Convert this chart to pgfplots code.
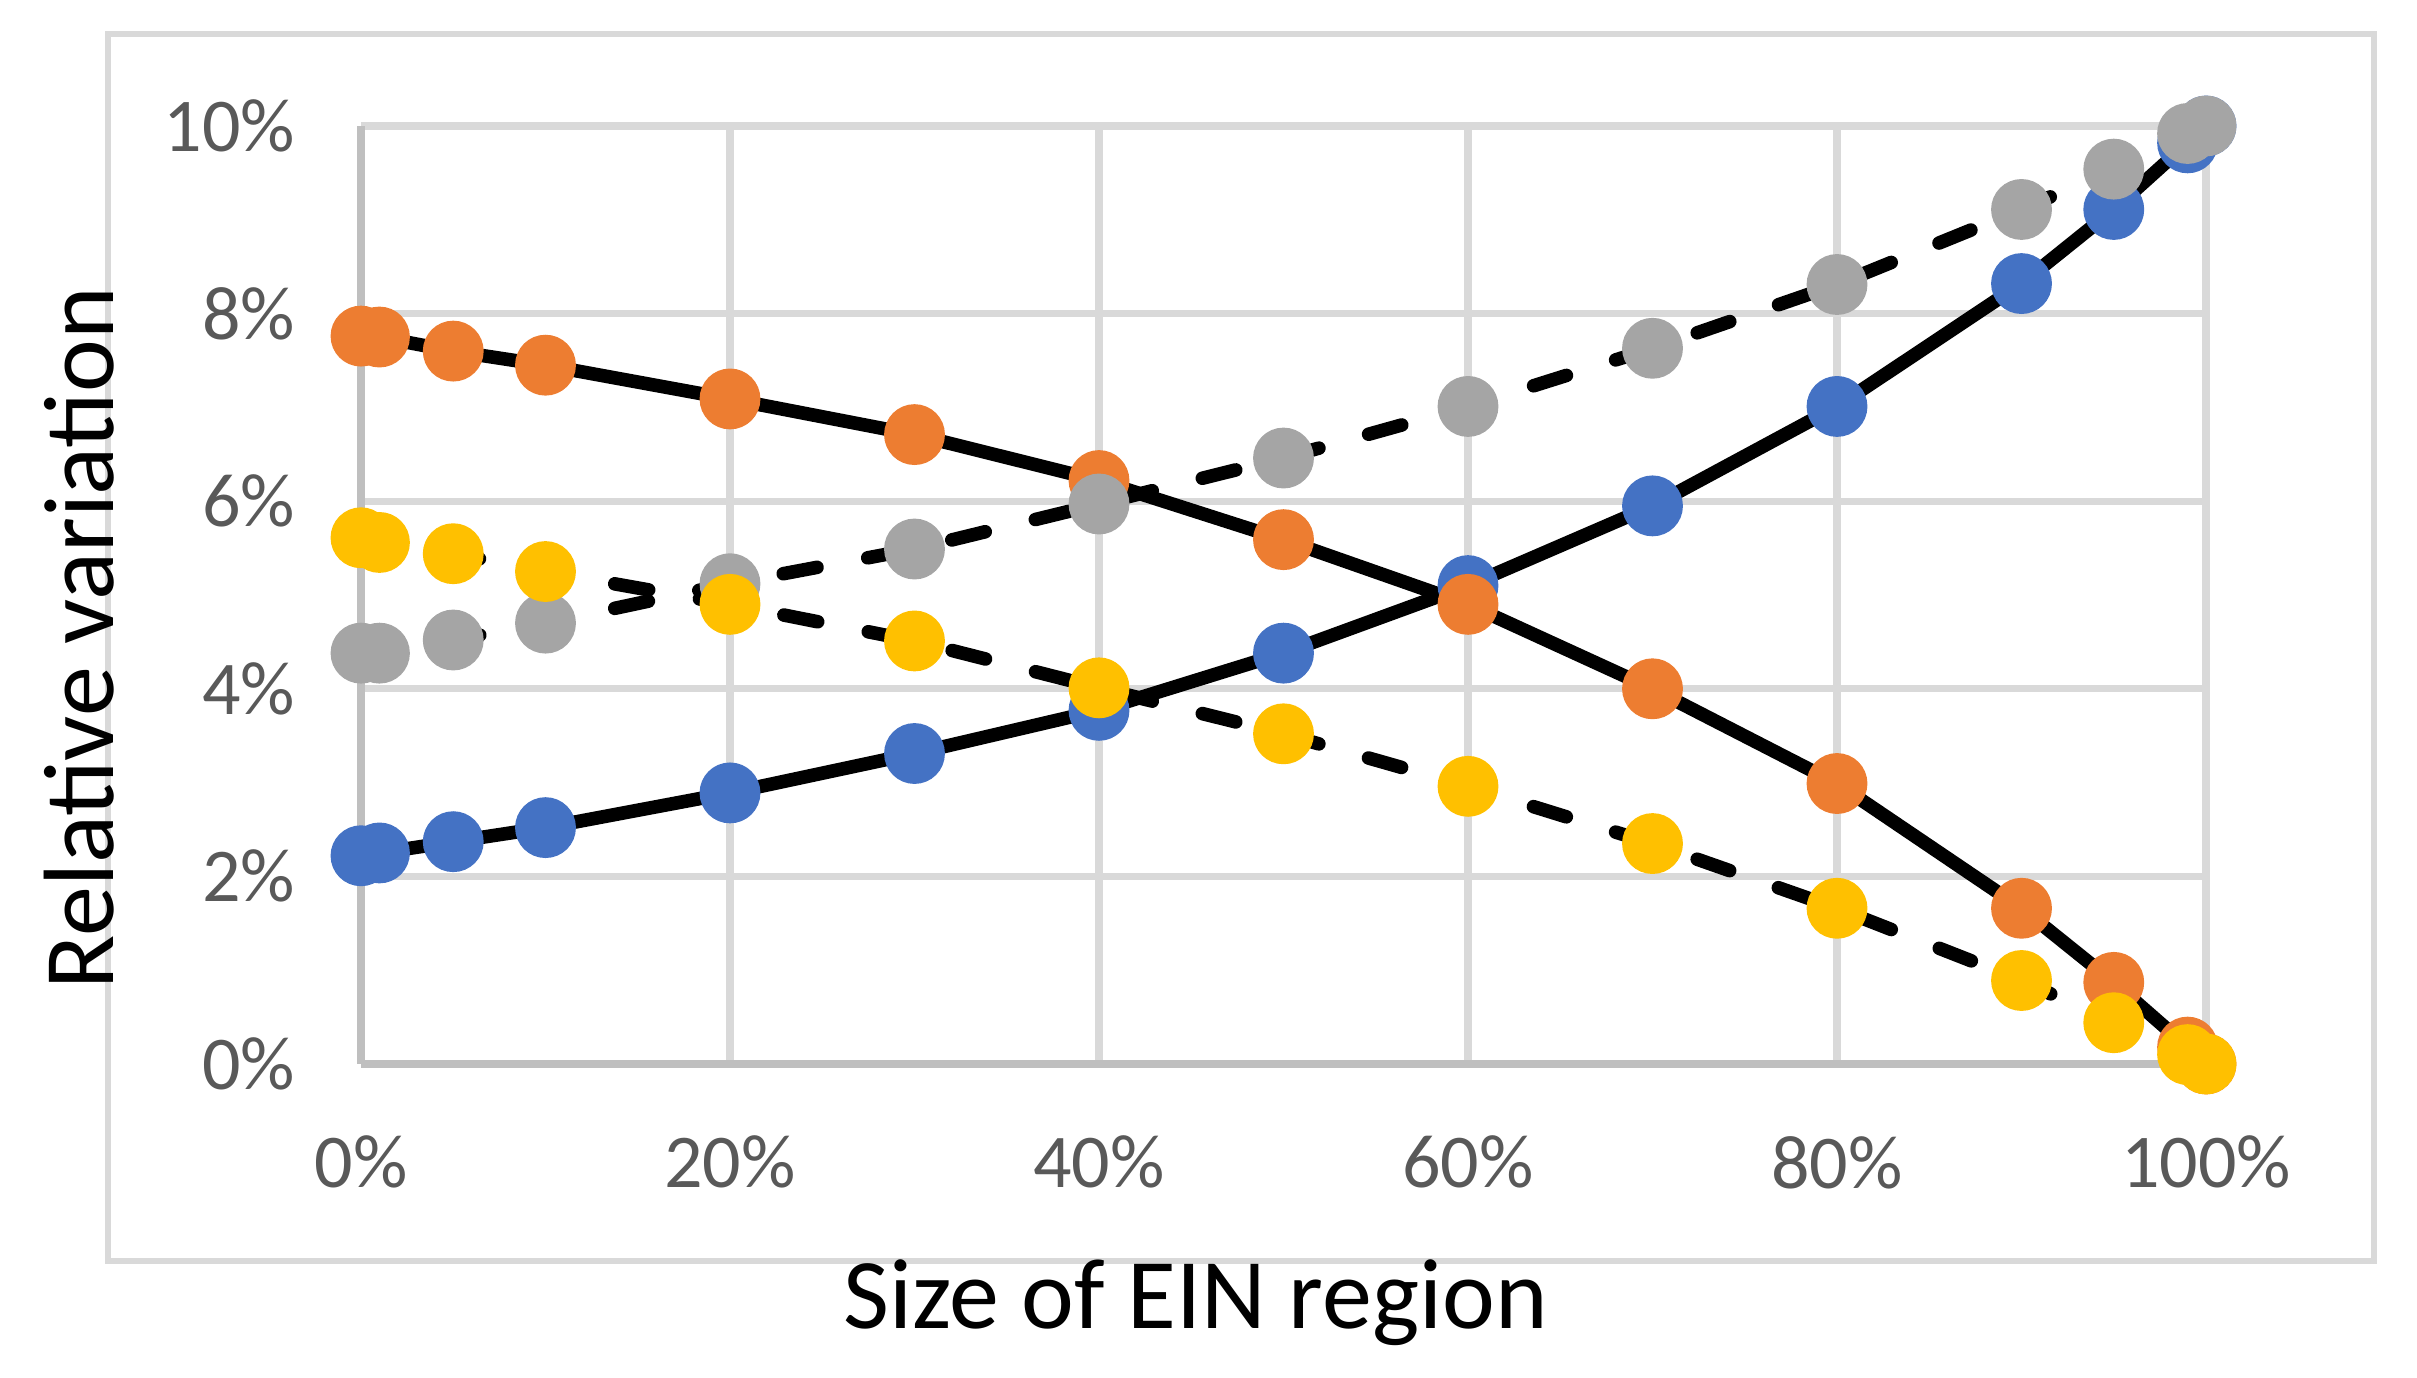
\documentclass[border=0pt]{standalone}
\usepackage{pgfplots}
\pgfplotsset{compat=1.18}
\usepackage{fontspec}
\setmainfont{Carlito}
\definecolor{cblue}{HTML}{4472C4}
\definecolor{corange}{HTML}{ED7D31}
\definecolor{cgray}{HTML}{A5A5A5}
\definecolor{cyellow}{HTML}{FFC000}
\definecolor{gridc}{HTML}{D9D9D9}
\definecolor{axisc}{HTML}{BFBFBF}
\definecolor{tickc}{HTML}{595959}
\begin{document}
\begin{tikzpicture}
\useasboundingbox (0,0) rectangle (604.25pt,344.5pt);
\draw[color=gridc, line width=1.7pt] (27pt,29.25pt) rectangle (593.5pt,336pt);
\begin{axis}[
  at={(90.25pt,78.5pt)}, anchor=south west,
  scale only axis, width=461.25pt, height=234.5pt,
  xmin=0, xmax=100, ymin=0, ymax=10,
  xtick={0,20,40,60,80,100}, ytick={0,2,4,6,8,10},
  xticklabels={0\%,20\%,40\%,60\%,80\%,100\%},
  yticklabels={0\%,2\%,4\%,6\%,8\%,10\%},
  tick label style={font=\fontsize{19}{21}\selectfont, text=tickc},
  yticklabel style={xshift=-13pt},
  xticklabel style={yshift=-14.5pt},
  major tick length=0pt, tick style={draw=none},
  grid=major, major grid style={draw=gridc, line width=1.8pt},
  axis lines=left, axis line style={-, draw=axisc, line width=1.8pt},
  clip=false,
  label style={font=\fontsize{25}{29}\selectfont},
  xlabel={Size of EIN region},
  ylabel={Relative variation},
  xlabel style={at={(axis description cs:0.4523,-0.2825)}, anchor=base},
  ylabel style={at={(axis description cs:-0.134,0.454)}, anchor=base},
]
\addplot[black, line width=3.4pt, mark=*, mark size=5.9pt, mark options={fill=cblue, draw=cblue, solid}] coordinates {
(0,2.22) (1,2.25) (5,2.37) (10,2.52) (20,2.89) (30,3.31) (40,3.77) (50,4.38)
(60,5.10) (70,5.95) (80,7.01) (90,8.32) (95,9.11) (99,9.82) (100,10.0)};
\addplot[black, line width=3.4pt, mark=*, mark size=5.9pt, mark options={fill=corange, draw=corange, solid}] coordinates {
(0,7.76) (1,7.75) (5,7.60) (10,7.45) (20,7.09) (30,6.71) (40,6.22) (50,5.59)
(60,4.90) (70,4.00) (80,2.99) (90,1.66) (95,0.87) (99,0.18) (100,0.0)};
\addplot[black, line width=3.4pt, line cap=round, dash pattern=on 8.6pt off 12.9pt, mark=*, mark size=5.9pt, mark options={fill=cgray, draw=cgray, solid}] coordinates {
(0,4.38) (1,4.38) (5,4.52) (10,4.70) (20,5.12) (30,5.49) (40,5.97) (50,6.46)
(60,7.01) (70,7.63) (80,8.31) (90,9.11) (95,9.54) (99,9.92) (100,10.0)};
\addplot[black, line width=3.4pt, line cap=round, dash pattern=on 8.6pt off 12.9pt, mark=*, mark size=5.9pt, mark options={fill=cyellow, draw=cyellow, solid}] coordinates {
(0,5.61) (1,5.56) (5,5.44) (10,5.25) (20,4.90) (30,4.51) (40,4.01) (50,3.52)
(60,2.96) (70,2.35) (80,1.66) (90,0.89) (95,0.44) (99,0.10) (100,0.0)};
\end{axis}
\end{tikzpicture}
\end{document}
